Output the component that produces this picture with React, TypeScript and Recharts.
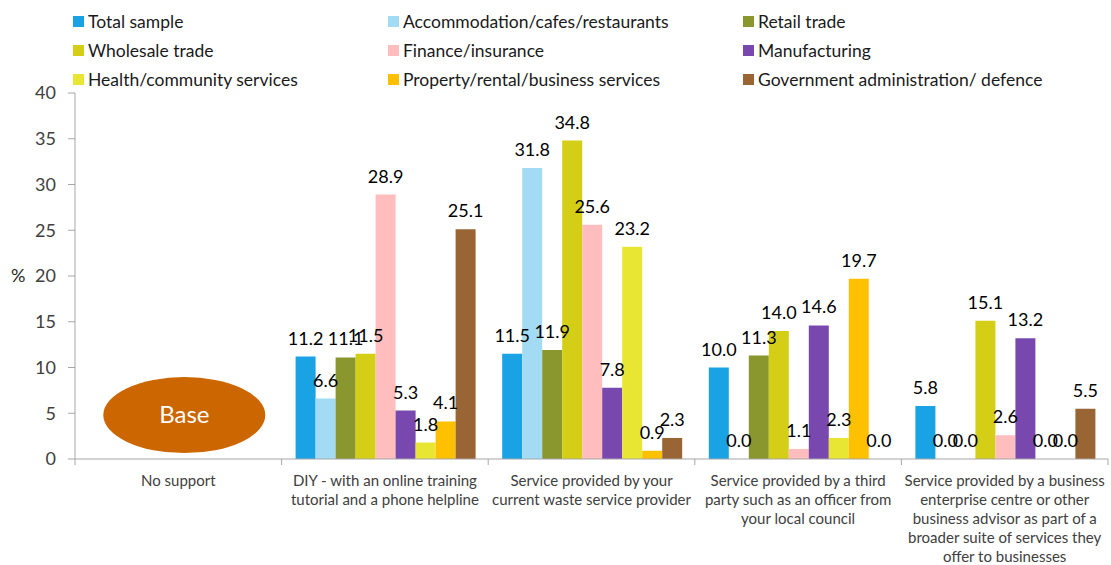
import { BarChart, Bar, XAxis, YAxis, LabelList, ReferenceDot } from 'recharts';

const categories = [
  'No support',
  'DIY - with an online training tutorial and a phone helpline',
  'Service provided by your current waste service provider',
  'Service provided by a third party such as an officer from your local council',
  'Service provided by a business enterprise centre or other business advisor as part of a broader suite of services they offer to businesses',
];

// wrapped lines of the category labels, as in the original
const categoryLines = [
  ['No support'],
  ['DIY - with an online training', 'tutorial and a phone helpline'],
  ['Service provided by your', 'current waste service provider'],
  ['Service provided by a third', 'party such as an officer from', 'your local council'],
  ['Service provided by a business', 'enterprise centre or other', 'business advisor as part of a', 'broader suite of services they', 'offer to businesses'],
];

const totalSample = [null, 11.2, 11.5, 10.0, 5.8];
const accommodation = [null, 6.6, 31.8, 0.0, 0.0];
const retail = [null, 11.1, 11.9, 11.3, 0.0];
const wholesale = [null, 11.5, 34.8, 14.0, 15.1];
const finance = [null, 28.9, 25.6, 1.1, 2.6];
const manufacturing = [null, 5.3, 7.8, 14.6, 13.2];
const health = [null, 1.8, 23.2, 2.3, 0.0];
const property = [null, 4.1, 0.9, 19.7, 0.0];
const government = [null, 25.1, 2.3, 0.0, 5.5];

const yTicks = [0, 5, 10, 15, 20, 25, 30, 35, 40];

const series = [
  { key: 'total', name: 'Total sample', color: '#1AA3E4', values: totalSample },
  { key: 'accom', name: 'Accommodation/cafes/restaurants', color: '#A3DBF4', values: accommodation },
  { key: 'retail', name: 'Retail trade', color: '#8A962E', values: retail },
  { key: 'wholesale', name: 'Wholesale trade', color: '#D5CE17', values: wholesale },
  { key: 'finance', name: 'Finance/insurance', color: '#FFBDBD', values: finance },
  { key: 'manuf', name: 'Manufacturing', color: '#7848AE', values: manufacturing },
  { key: 'health', name: 'Health/community services', color: '#E9E533', values: health },
  { key: 'property', name: 'Property/rental/business services', color: '#FFC000', values: property },
  { key: 'gov', name: 'Government administration/ defence', color: '#996535', values: government },
];

const data = categories.map((c, i) => {
  const row: Record<string, any> = { category: c };
  series.forEach((s) => {
    row[s.key] = s.values[i];
  });
  return row;
});

const W = 1111;
const H = 565;
const MARGIN = { top: 93, right: 3, left: 0, bottom: 0 };
const Y_AXIS_W = 75;
const X_AXIS_H = 106;
const PLOT_BOTTOM = H - MARGIN.bottom - X_AXIS_H;
const BAND = (W - MARGIN.left - MARGIN.right - Y_AXIS_W) / categories.length;
const FONT = 'Lato, "Open Sans", sans-serif';
const AXIS_COLOR = '#a6a6a6';

function CategoryTick(props: any) {
  const { x, index, payload } = props;
  const idx = categories.indexOf(payload.value);
  const lines = categoryLines[idx] ?? [payload.value];
  const left = x - BAND / 2;
  return (
    <g>
      <line x1={left} x2={left} y1={PLOT_BOTTOM} y2={PLOT_BOTTOM + 6} stroke={AXIS_COLOR} />
      {index === categories.length - 1 && (
        <line x1={x + BAND / 2} x2={x + BAND / 2} y1={PLOT_BOTTOM} y2={PLOT_BOTTOM + 6} stroke={AXIS_COLOR} />
      )}
      <text x={x} y={PLOT_BOTTOM + 27} textAnchor="middle" fill="#404040" fontSize={15} fontFamily={FONT}>
        {lines.map((l, i) => (
          <tspan key={i} x={x} dy={i === 0 ? 0 : 19}>
            {l}
          </tspan>
        ))}
      </text>
    </g>
  );
}

function BaseEllipse(props: any) {
  const { cx, cy } = props;
  if (cx == null || cy == null) return null;
  return (
    <g>
      <ellipse cx={cx + 6} cy={cy} rx={81} ry={38} fill="#CC6600" />
      <text x={cx + 6} y={cy + 8} textAnchor="middle" fill="#ffffff" fontSize={24} fontFamily={FONT}>
        Base
      </text>
    </g>
  );
}

const legendCols = [73, 388, 743];
const legendRows = [21, 50, 79];

function ChartLegend() {
  return (
    <>
      {series.map((s, i) => (
        <div
          key={s.key}
          style={{
            position: 'absolute',
            left: legendCols[i % 3],
            top: legendRows[Math.floor(i / 3)] - 11,
            height: 22,
            display: 'flex',
            alignItems: 'center',
            fontFamily: FONT,
            fontSize: 17.5,
            color: '#1a1a1a',
            whiteSpace: 'nowrap',
          }}
        >
          <span style={{ display: 'inline-block', width: 11, height: 11, background: s.color, marginRight: 4 }} />
          {s.name}
        </div>
      ))}
    </>
  );
}

const fmt = (v: any) => (v == null ? '' : Number(v).toFixed(1));
// lets zero-valued bars keep a (hairline) rectangle so their 0.0 label is drawn
const zeroBarSize = (v: any) => (v === 0 ? 0.01 : 0);

export default function App() {
  return (
    <div style={{ position: 'absolute', left: 0, top: 0, width: W, height: H, background: '#fff' }}>
      <ChartLegend />
      <BarChart width={W} height={H} data={data} margin={MARGIN} barGap={0} barCategoryGap={14}>
        <XAxis
          dataKey="category"
          height={X_AXIS_H}
          interval={0}
          tickLine={false}
          stroke={AXIS_COLOR}
          tick={<CategoryTick />}
        />
        <YAxis
          width={Y_AXIS_W}
          domain={[0, 40]}
          ticks={yTicks}
          interval={0}
          stroke={AXIS_COLOR}
          tickSize={7}
          tickMargin={12}
          tick={{ fill: '#404040', fontSize: 18, fontFamily: FONT }}
          label={{ value: '%', position: 'insideLeft', offset: 11, fill: '#262626', fontSize: 18, fontFamily: FONT }}
        />
        {series.map((s) => (
          <Bar
            key={s.key}
            dataKey={s.key}
            name={s.name}
            fill={s.color}
            minPointSize={zeroBarSize}
            isAnimationActive={false}
          >
            <LabelList dataKey={s.key} position="top" offset={12} formatter={fmt} fill="#000" fontSize={18} fontFamily={FONT} />
          </Bar>
        ))}
        <ReferenceDot x="No support" y={4.8} r={1} shape={<BaseEllipse />} ifOverflow="visible" />
      </BarChart>
    </div>
  );
}
